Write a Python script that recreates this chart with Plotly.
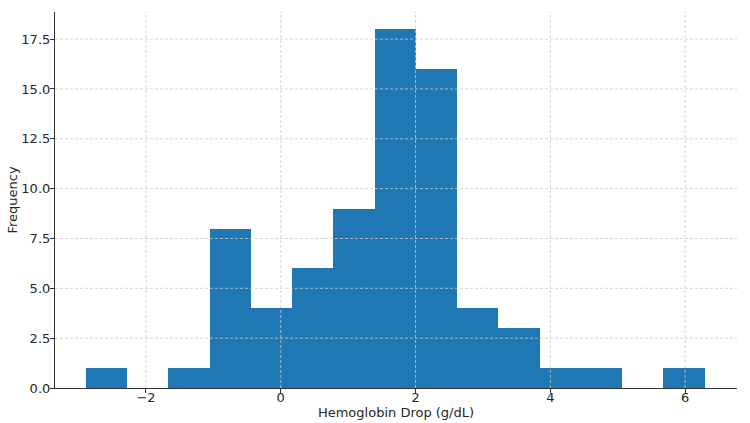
import plotly.graph_objects as go

# Histogram data (bins of equal width)
bin_start = -2.893
bin_width = 0.6122
counts = [1, 0, 1, 8, 4, 6, 9, 18, 16, 4, 3, 1, 1, 0, 1]
x_ticks = [-2, 0, 2, 4, 6]
y_ticks = [0.0, 2.5, 5.0, 7.5, 10.0, 12.5, 15.0, 17.5]

centers = [bin_start + bin_width * (i + 0.5) for i in range(len(counts))]

fig = go.Figure(go.Bar(
    x=centers, y=counts, width=[bin_width] * len(counts),
    marker=dict(color="#1f77b4", line=dict(width=0)),
))

# grid lines drawn above the bars (as in the reference)
grid_line = dict(color="#cccccc", width=0.8, dash="3px,2px")
for v in x_ticks:
    fig.add_shape(type="line", xref="x", yref="paper", x0=v, x1=v, y0=0, y1=1,
                  line=grid_line, layer="above")
for v in y_ticks[1:]:
    fig.add_shape(type="line", xref="paper", yref="y", x0=0, x1=1, y0=v, y1=v,
                  line=grid_line, layer="above")

fig.update_layout(
    width=750, height=423,
    margin=dict(l=55, r=13, t=12, b=35),
    plot_bgcolor="white", paper_bgcolor="white",
    font=dict(family="DejaVu Sans", size=13, color="#262626"),
    showlegend=False, bargap=0,
    xaxis=dict(range=[-3.35, 6.77], tickvals=x_ticks,
               ticktext=["\u22122", "0", "2", "4", "6"],
               showline=True, linecolor="#333333", linewidth=1.2,
               ticks="outside", ticklen=4, tickcolor="#333333",
               zeroline=False, showgrid=False, automargin=False,
               tickfont=dict(size=13), ticklabelstandoff=-7,
               title=dict(text="Hemoglobin Drop (g/dL)", standoff=4, font=dict(size=13))),
    yaxis=dict(range=[0, 18.86], tickvals=y_ticks,
               ticktext=[f"{v:.1f}" for v in y_ticks],
               showline=True, linecolor="#333333", linewidth=1.2,
               ticks="outside", ticklen=4, tickcolor="#333333",
               zeroline=False, showgrid=False, automargin=False,
               tickfont=dict(size=13), ticklabelstandoff=-3,
               title=dict(text="Frequency", standoff=0, font=dict(size=13))),
)
fig.write_html("out.html")
